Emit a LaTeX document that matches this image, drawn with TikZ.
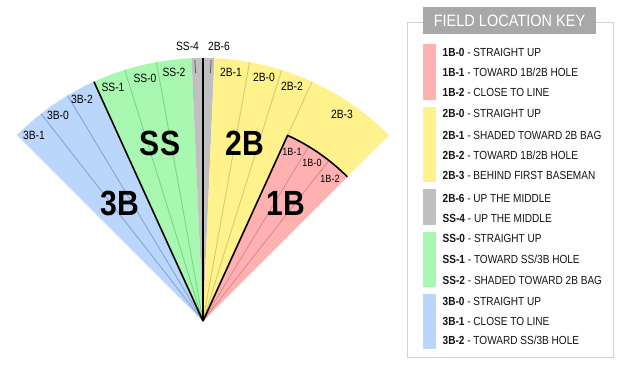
\documentclass[tikz,border=0pt]{standalone}
\usepackage{fontspec}
\setmainfont[FakeStretch=0.86]{Liberation Sans}
\newfontfamily\titlefont[FakeStretch=0.88]{Liberation Sans}
\definecolor{pinkf}{RGB}{255,176,176}
\definecolor{yelf}{RGB}{255,242,140}
\definecolor{greyf}{RGB}{192,192,192}
\definecolor{greenf}{RGB}{168,248,178}
\definecolor{bluef}{RGB}{186,214,250}
\definecolor{pinkl}{RGB}{222,140,140}
\definecolor{yell}{RGB}{214,204,110}
\definecolor{greenl}{RGB}{120,214,135}
\definecolor{bluel}{RGB}{135,165,215}
\definecolor{titlegrey}{RGB}{168,168,168}
\definecolor{keyborder}{RGB}{210,210,210}
\tikzset{
  subline/.style={line width=0.9pt},
  bound/.style={line width=1.6pt, black},
  tickline/.style={line width=0.8pt, black!65},
  lab/.style={font=\fontsize{12}{12}\selectfont, inner sep=0pt, text height=8.6pt, text depth=0pt},
  smalllab/.style={font=\fontsize{10.5}{10.5}\selectfont, inner sep=0pt, text height=7.5pt, text depth=0pt},
  big/.style={font=\fontsize{35}{35}\selectfont\bfseries, inner sep=0pt, text height=25pt, text depth=0pt},
  keytxt/.style={anchor=west, font=\fontsize{11.7}{11.7}\selectfont, inner sep=0pt, text height=8.4pt, text depth=0pt, text=black!92}
}
\begin{document}
\begin{tikzpicture}[x=1pt,y=-1pt]
\useasboundingbox (0,0) rectangle (628,367);
\fill[white] (0,0) rectangle (628,367);
% ---------------- fan ----------------
\begin{scope}[shift={(203,321)}]
  \coordinate (apex) at (0,0);
  \fill[bluef] (apex) -- (135:263pt) arc[start angle=135, end angle=114.5, radius=263pt] -- cycle;
  \fill[greenf] (apex) -- (114.5:263pt) arc[start angle=114.5, end angle=92.5, radius=263pt] -- cycle;
  \fill[greyf] (apex) -- (92.5:263pt) arc[start angle=92.5, end angle=87.5, radius=263pt] -- cycle;
  \fill[yelf] (apex) -- (87.5:263pt) arc[start angle=87.5, end angle=45, radius=263pt] -- cycle;
  \fill[pinkf] (apex) -- (65.5:204pt) arc[start angle=65.5, end angle=45, radius=204pt] -- cycle;
  % sub-zone lines
  \draw[subline, bluel] (apex) -- (128:263pt);
  \draw[subline, bluel] (apex) -- (121:263pt);
  \draw[subline, greenl] (apex) -- (107.3:263pt);
  \draw[subline, greenl] (apex) -- (100.2:263pt);
  \draw[subline, yell] (apex) -- (79.8:263pt);
  \draw[subline, yell] (apex) -- (72.6:263pt);
  \draw[subline, yell] (65.5:204pt) -- (65.5:263pt);
  \draw[subline, pinkl] (apex) -- (58.8:204pt);
  \draw[subline, pinkl] (apex) -- (51.9:204pt);
  % boundaries
  \draw[bound] (apex) -- (114.5:263pt);
  \draw[bound] (apex) -- (90:263pt);
  \draw[bound, line join=round] (apex) -- (65.5:204pt) arc[start angle=65.5, end angle=45, radius=204pt];
  % ticks
  \coordinate (t1a) at (91.7:248pt);
  \coordinate (t1b) at (91.8:261pt);
  \coordinate (t2a) at (88.3:248pt);
  \coordinate (t2b) at (88.2:261pt);
  \draw[tickline] (t1a) -- (t1b);
  \draw[tickline] (t2a) -- (t2b);
\end{scope}
% labels of the fan
\node[lab] (l3b1) at (34,135) {3B-1};
\node[lab] (l3b0) at (58,115) {3B-0};
\node[lab] (l3b2) at (82,99.5) {3B-2};
\node[lab] (lss1) at (113,87) {SS-1};
\node[lab] (lss0) at (145,78) {SS-0};
\node[lab] (lss2) at (174,72) {SS-2};
\node[lab] (lss4) at (187.5,46) {SS-4};
\node[lab] (l2b6) at (219,46) {2B-6};
\node[lab] (l2b1) at (231,72) {2B-1};
\node[lab] (l2b0) at (264,77.5) {2B-0};
\node[lab] (l2b2) at (292,86) {2B-2};
\node[lab] (l2b3) at (342,114) {2B-3};
\node[smalllab] (l1b1) at (292,152) {1B-1};
\node[smalllab] (l1b0) at (312,163) {1B-0};
\node[smalllab] (l1b2) at (330,179) {1B-2};
\node[big] (bss) at (160,143) {SS};
\node[big] (b2b) at (245,143) {2B};
\node[big] (b3b) at (120,203) {3B};
\node[big] (b1b) at (286,203) {1B};
% ---------------- key ----------------
\draw[keyborder, line width=1pt] (407.5,22) rectangle (613,357);
\fill[titlegrey] (423,7) rectangle (596,33.5);
\node[font=\titlefont\fontsize{16.5}{16.5}\selectfont, text=white, inner sep=0pt, text height=11.8pt, text depth=0pt] (title) at (509.5,20.5) {FIELD LOCATION KEY};
\fill[pinkf] (423,43.5) rectangle (436,99.5);
\fill[yelf] (423,106.5) rectangle (436,181.5);
\fill[greyf] (423,188.5) rectangle (436,225);
\fill[greenf] (423,231.5) rectangle (436,286.5);
\fill[bluef] (423,294) rectangle (436,349);
\node[keytxt] (k1) at (442.5,52) {\textbf{1B-0} - STRAIGHT UP};
\node[keytxt] (k2) at (442.5,72) {\textbf{1B-1} - TOWARD 1B/2B HOLE};
\node[keytxt] (k3) at (442.5,92) {\textbf{1B-2} - CLOSE TO LINE};
\node[keytxt] (k4) at (442.5,113) {\textbf{2B-0} - STRAIGHT UP};
\node[keytxt] (k5) at (442.5,135) {\textbf{2B-1} - SHADED TOWARD 2B BAG};
\node[keytxt] (k6) at (442.5,155.5) {\textbf{2B-2} - TOWARD 1B/2B HOLE};
\node[keytxt] (k7) at (442.5,175.5) {\textbf{2B-3} - BEHIND FIRST BASEMAN};
\node[keytxt] (k8) at (442.5,198) {\textbf{2B-6} - UP THE MIDDLE};
\node[keytxt] (k9) at (442.5,218) {\textbf{SS-4} - UP THE MIDDLE};
\node[keytxt] (k10) at (442.5,238.5) {\textbf{SS-0} - STRAIGHT UP};
\node[keytxt] (k11) at (442.5,259) {\textbf{SS-1} - TOWARD SS/3B HOLE};
\node[keytxt] (k12) at (442.5,280) {\textbf{SS-2} - SHADED TOWARD 2B BAG};
\node[keytxt] (k13) at (442.5,301.5) {\textbf{3B-0} - STRAIGHT UP};
\node[keytxt] (k14) at (442.5,321.5) {\textbf{3B-1} - CLOSE TO LINE};
\node[keytxt] (k15) at (442.5,340.5) {\textbf{3B-2} - TOWARD SS/3B HOLE};
\end{tikzpicture}
\end{document}
